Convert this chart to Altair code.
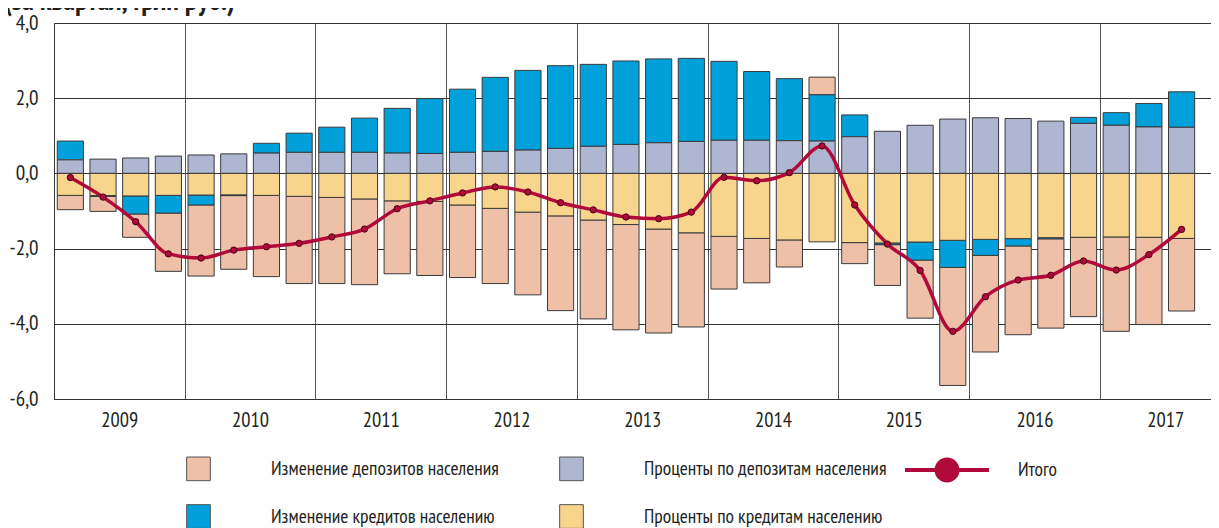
import altair as alt
import pandas as pd

FONT = "PT Sans Narrow, Roboto Condensed"

quarters = [f"{y}Q{q}" for y in range(2009, 2018) for q in range(1, 5)][:35]

# series (трлн руб., за квартал)
pct_dep = [0.36, 0.38, 0.41, 0.46, 0.49, 0.52, 0.54, 0.56, 0.56, 0.56, 0.54, 0.53,
           0.56, 0.585, 0.62, 0.665, 0.72, 0.77, 0.815, 0.85, 0.88, 0.88, 0.87, 0.86,
           0.975, 1.12, 1.28, 1.445, 1.48, 1.46, 1.39, 1.33, 1.28, 1.235, 1.225]
chg_cred = [0.50, -0.02, -0.48, -0.47, -0.265, -0.02, 0.26, 0.51, 0.67, 0.91, 1.19, 1.46,
            1.68, 1.97, 2.12, 2.20, 2.18, 2.22, 2.23, 2.21, 2.10, 1.83, 1.65, 1.23,
            0.58, -0.045, -0.48, -0.72, -0.425, -0.195, -0.03, 0.16, 0.335, 0.625, 0.945]
pct_cred = [-0.585, -0.59, -0.60, -0.585, -0.575, -0.57, -0.585, -0.61, -0.64, -0.68, -0.73, -0.745,
            -0.84, -0.93, -1.03, -1.13, -1.24, -1.36, -1.48, -1.58, -1.675, -1.73, -1.77, -1.82,
            -1.84, -1.85, -1.825, -1.78, -1.755, -1.735, -1.71, -1.70, -1.69, -1.70, -1.73]
chg_dep = [-0.38, -0.40, -0.62, -1.55, -1.89, -1.96, -2.16, -2.32, -2.29, -2.28, -1.94, -1.97,
           -1.93, -2.00, -2.20, -2.52, -2.63, -2.80, -2.765, -2.505, -1.40, -1.18, -0.72, 0.47,
           -0.56, -1.085, -1.545, -3.14, -2.57, -2.36, -2.375, -2.11, -2.51, -2.32, -1.93]
total = [-0.11, -0.63, -1.285, -2.14, -2.25, -2.04, -1.95, -1.86, -1.69, -1.48, -0.94, -0.73,
         -0.52, -0.36, -0.495, -0.78, -0.97, -1.16, -1.205, -1.03, -0.105, -0.195, 0.02, 0.73,
         -0.84, -1.88, -2.58, -4.20, -3.28, -2.835, -2.71, -2.33, -2.57, -2.16, -1.49]

# legend order (filled column by column)
names = ["Изменение депозитов населения", "Изменение кредитов населению",
         "Проценты по депозитам населения", "Проценты по кредитам населению"]
colors = ["#EEC0A7", "#00A1DA", "#AEB6D1", "#F8D58D"]
stack_order = [2, 1, 0, 0]
series = [chg_dep, chg_cred, pct_dep, pct_cred]
total_name = "Итого"
line_color = "#B0093A"
title_text = "(за квартал, трлн руб.)"

rows = []
for s_name, s_vals, s_ord in zip(names, series, stack_order):
    for i, v in enumerate(s_vals):
        rows.append({"idx": i, "quarter": quarters[i], "series": s_name, "value": v, "ord": s_ord})
bars_df = pd.DataFrame(rows)
line_df = pd.DataFrame({"idx": list(range(len(total))), "quarter": quarters,
                        "value": total, "series": total_name})

xscale = alt.Scale(domain=[0, 35.4], nice=False, zero=False)
yscale = alt.Scale(domain=[-6, 4], nice=False)

x_axis = alt.Axis(values=[0, 4, 8, 12, 16, 20, 24, 28, 32], grid=True, gridColor="#555",
                  gridWidth=1, ticks=False, domain=True, domainColor="#333",
                  labelExpr="2009 + datum.value / 4", labelOffset=65.3, labelPadding=11,
                  labelFont=FONT, labelFontSize=20.5, labelColor="#231F20", title=None,
                  labelAlign="center")
y_axis = alt.Axis(values=[-6, -4, -2, 0, 2, 4], grid=True, gridColor="#333", gridWidth=1,
                  ticks=False, domain=True, domainColor="#333",
                  labelExpr="replace(replace(format(datum.value, '.1f'), '.', ','), '\u2212', '-')",
                  labelPadding=16, labelFont=FONT, labelFontSize=21, labelColor="#231F20",
                  title=None)

bars = alt.Chart(bars_df).transform_stack(
    stack="value", groupby=["idx"], as_=["y0", "y1"], sort=[alt.SortField("ord")], offset="zero"
).transform_calculate(
    x0="datum.idx + 0.1", x1="datum.idx + 0.9"
).mark_bar(stroke="#3a3a3a", strokeWidth=1).encode(
    x=alt.X("x0:Q", scale=xscale, axis=x_axis),
    x2="x1:Q",
    y=alt.Y("y0:Q", scale=yscale, axis=y_axis),
    y2="y1:Q",
    fill=alt.Fill("series:N", scale=alt.Scale(domain=names, range=colors),
                  legend=alt.Legend(title=None, orient="none", legendX=132, legendY=433,
                                    columns=2, columnPadding=58, rowPadding=19,
                                    symbolType="square", symbolSize=560,
                                    symbolStrokeColor="#555", symbolStrokeWidth=1,
                                    labelOffset=60, labelFont=FONT, labelFontSize=19.5,
                                    labelColor="#231F20", padding=0, labelLimit=400)),
)

circle_path = ("M-1,0H-0.25M0.25,0H1M-0.25,0A0.25,0.25 0 1,0 0.25,0"
               "A0.25,0.25 0 1,0 -0.25,0Z")

line = alt.Chart(line_df).transform_calculate(xc="datum.idx + 0.5").mark_line(
    strokeWidth=3.5, interpolate="monotone"
).encode(
    x=alt.X("xc:Q", scale=xscale),
    y=alt.Y("value:Q", scale=yscale),
    stroke=alt.Stroke("series:N", scale=alt.Scale(domain=[total_name], range=[line_color]),
                      legend=alt.Legend(title=None, orient="none", legendX=849, legendY=403,
                                        symbolType=circle_path, symbolSize=7056,
                                        symbolStrokeWidth=4, symbolFillColor=line_color,
                                        labelOffset=27, labelFont=FONT, labelFontSize=19.5,
                                        labelColor="#231F20", padding=0)),
)

points = alt.Chart(line_df).transform_calculate(xc="datum.idx + 0.5").mark_point(
    filled=True, fill=line_color, stroke="#4a0015", strokeWidth=1, size=40, opacity=1
).encode(
    x=alt.X("xc:Q", scale=xscale),
    y=alt.Y("value:Q", scale=yscale),
)

title = alt.Chart(pd.DataFrame({"t": [title_text]})).mark_text(
    align="left", baseline="alphabetic", font=FONT, fontSize=28.5, fontWeight="bold",
    color="#231F20"
).encode(x=alt.value(-50), y=alt.value(-13), text="t:N")

chart = alt.layer(bars, line, points, title).properties(
    width=1157, height=376,
    autosize=alt.AutoSizeParams(type="none"),
    padding={"left": 46, "top": 15, "right": 0, "bottom": 129},
).configure_view(strokeWidth=0)

chart.save("out.html", embed_options={"renderer": "svg", "actions": False})
